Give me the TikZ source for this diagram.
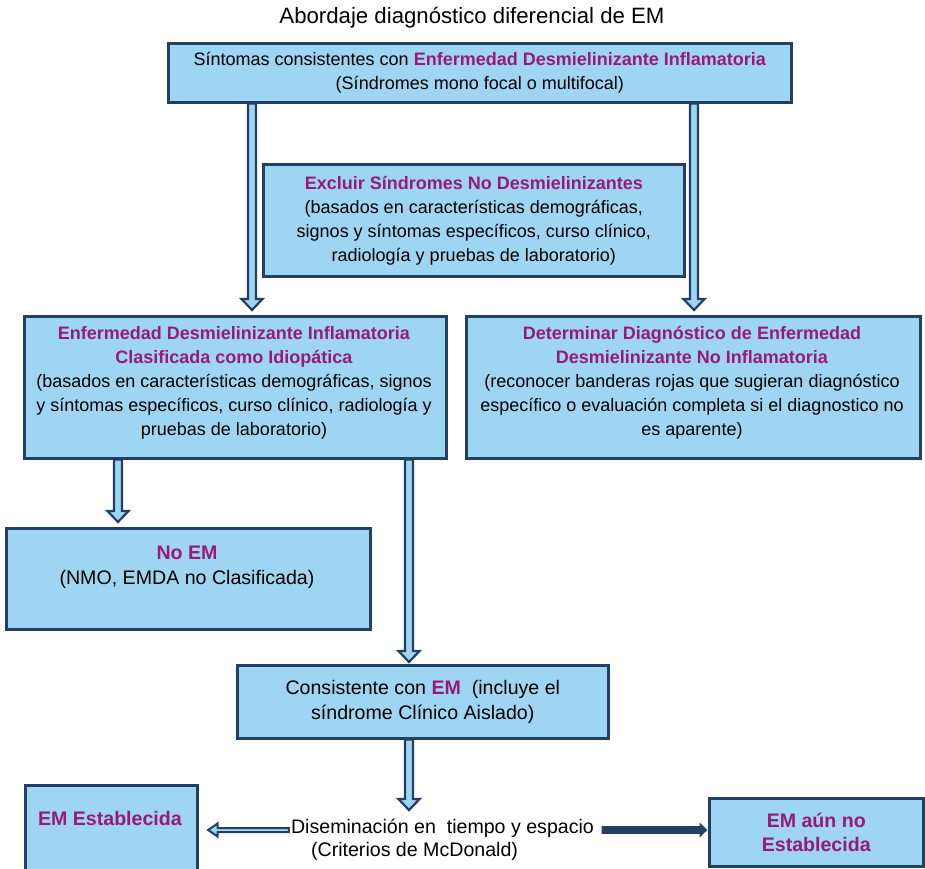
\documentclass[tikz,border=0pt]{standalone}
\usepackage{fontspec}
\setmainfont{Liberation Sans}
\usetikzlibrary{calc}
\definecolor{boxfill}{RGB}{158,213,243}
\definecolor{boxline}{RGB}{36,64,97}
\definecolor{magtext}{RGB}{152,26,120}
\newcommand\magb[1]{\textcolor{magtext}{\textbf{#1}}}
% vertical hollow block arrow: [gap]{start}{end}
\newcommand\downblk[3][5pt]{%
  \draw[harrow] let \p1=(#2), \p2=(#3) in
   (\x1-4pt,\y1) -- (\x1-4pt,\y2+#1+11pt) -- (\x1-10.5pt,\y2+#1+11pt) --
   (\x1,\y2+#1) -- (\x1+10.5pt,\y2+#1+11pt) -- (\x1+4pt,\y2+#1+11pt) --
   (\x1+4pt,\y1) -- cycle;}
\begin{document}
\begin{tikzpicture}[x=1pt,y=-1pt,
  box/.style={draw=boxline, fill=boxfill, line width=2.6pt, rectangle,
    anchor=north west, align=center, inner sep=0pt,
    font=\fontsize{18}{24}\selectfont},
  txt/.style={align=center, inner sep=0pt, font=\fontsize{18}{24}\selectfont},
  bigtxt/.style={font=\fontsize{19.6}{24.5}\selectfont},
  harrow/.style={draw=boxline, fill=boxfill, line width=2.2pt, line join=miter},
  sarrow/.style={draw=boxline, fill=boxline, line width=0.8pt, line join=miter}]
\useasboundingbox (0,0) rectangle (925,868);
\fill[white] (0,0) rectangle (925,868);

\node[txt, font=\fontsize{22.2}{26}\selectfont] (title) at (472,18)
  {Abordaje diagnóstico diferencial de EM};

\node[box, minimum width=623, minimum height=59] (top) at (167,42)
  {Síntomas consistentes con \magb{Enfermedad Desmielinizante Inflamatoria}\\
   (Síndromes mono focal o multifocal)};

\node[box, minimum width=421, minimum height=112] (excl) at (262,163)
  {\magb{Excluir Síndromes No Desmielinizantes}\\
   (basados en características demográficas,\\
   signos y síntomas específicos, curso clínico,\\
   radiología y pruebas de laboratorio)};

\node[box, minimum width=422, minimum height=142] (left) at (23,315) {};
\node[txt] (lefttxt) at (234,383)
  {\magb{Enfermedad Desmielinizante Inflamatoria}\\
   \magb{Clasificada como Idiopática}\\
   (basados en características demográficas, signos\\
   y síntomas específicos, curso clínico, radiología y\\
   pruebas de laboratorio)};

\node[box, minimum width=454, minimum height=142] (right) at (465,315) {};
\node[txt] (righttxt) at (692,383)
  {\magb{Determinar Diagnóstico de Enfermedad}\\
   \magb{Desmielinizante No Inflamatoria}\\
   (reconocer banderas rojas que sugieran diagnóstico\\
   específico o evaluación completa si el diagnostico no\\
   es aparente)};

\node[box, minimum width=364, minimum height=101] (noem) at (5,527) {};
\node[txt, bigtxt] (noemtxt) at (187,567.5)
  {\magb{No EM}\\(NMO, EMDA no Clasificada)};

\node[box, bigtxt, minimum width=371, minimum height=73] (cons) at (236,664)
  {Consistente con \magb{EM}\ \ (incluye el\\
   síndrome Clínico Aislado)};

\node[box, minimum width=172, minimum height=110] (estab) at (24,784) {};
\node[txt, bigtxt] (estabtxt) at (110,818) {\magb{EM Establecida}};

\node[box, bigtxt, minimum width=214, minimum height=68, font=\fontsize{19.6}{24}\selectfont] (noest) at (708,797)
  {\magb{EM aún no}\\\magb{Establecida}};

\node[txt, align=left, font=\fontsize{19.6}{23}\selectfont] (dis) at (442.5,840)
  {Diseminación en\ \ tiempo y espacio\\
   \hspace*{20pt}(Criterios de McDonald)};

% helper coordinates for arrow lines
\coordinate (xa) at (252,0);
\coordinate (xb) at (694,0);
\coordinate (xc) at (118,0);
\coordinate (xd) at (409,0);
\coordinate (ya) at (0,830);

\downblk[5pt]{top.south -| xa}{left.north -| xa}
\downblk[5pt]{top.south -| xb}{right.north -| xb}
\downblk[5pt]{left.south -| xc}{noem.north -| xc}
\downblk[2pt]{left.south -| xd}{cons.north -| xd}
\downblk[9pt]{cons.south -| xd}{dis.north -| xd}

% left arrow to EM Establecida
\draw[harrow, line width=2pt] let \p1=(dis.west |- ya), \p2=(estab.east |- ya) in
  (\x1-2pt,\y1+2pt) -- (\x2+19pt,\y1+2pt) -- (\x2+19pt,\y1+6.5pt) --
  (\x2+9.5pt,\y1) -- (\x2+19pt,\y1-6.5pt) -- (\x2+19pt,\y1-2pt) --
  (\x1-2pt,\y1-2pt) -- cycle;

% right arrow to EM aun no Establecida
\draw[sarrow] let \p1=(dis.east |- ya), \p2=(noest.west |- ya) in
  (\x1+8pt,\y1+3.5pt) -- (\x2-8pt,\y1+3.5pt) -- (\x2-8pt,\y1+6.5pt) --
  (\x2-1.3pt,\y1) -- (\x2-8pt,\y1-6.5pt) -- (\x2-8pt,\y1-3.5pt) --
  (\x1+8pt,\y1-3.5pt) -- cycle;
\end{tikzpicture}
\end{document}
